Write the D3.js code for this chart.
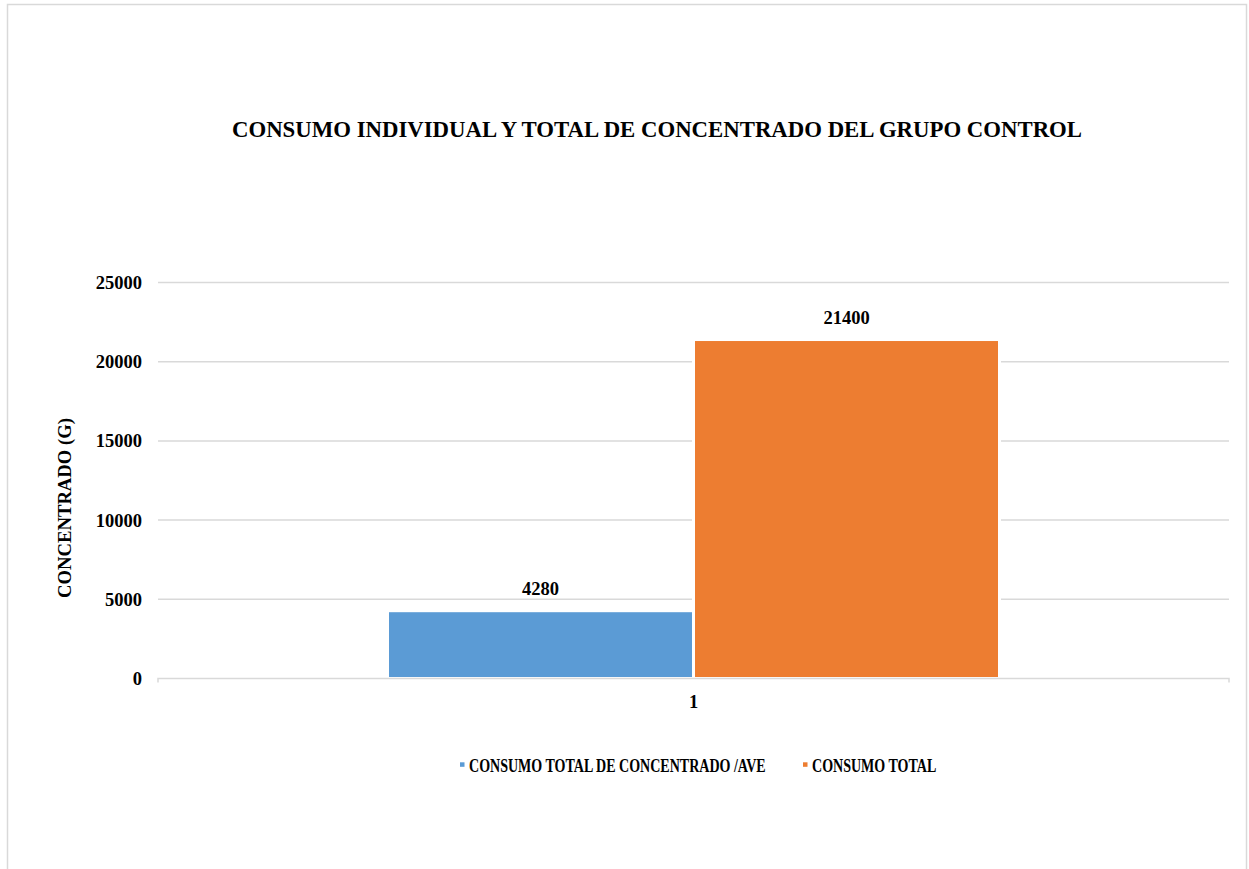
<!DOCTYPE html>
<html><head><meta charset="utf-8">
<script src="https://cdn.jsdelivr.net/npm/d3@7"></script>
<style>html,body{margin:0;padding:0;background:#fff;}svg{display:block;}</style>
</head><body>
<script>
const categories = ["1"];
const seriesNames = ["CONSUMO TOTAL DE CONCENTRADO /AVE", "CONSUMO TOTAL"];
const seriesValues = [[4280], [21400]];
const seriesColors = ["#5B9BD5", "#ED7D31"];
const yTicks = [0, 5000, 10000, 15000, 20000, 25000];
const titleText = "CONSUMO INDIVIDUAL Y TOTAL DE CONCENTRADO DEL GRUPO CONTROL";
const yTitle = "CONCENTRADO (G)";

(function () {
const W = 1249, H = 869;
const font = "'Liberation Serif','Times New Roman',serif";
const svg = d3.select("body").append("svg").attr("width", W).attr("height", H);

svg.append("rect").attr("x", 7.5).attr("y", 4.5).attr("width", 1239).attr("height", 900)
  .attr("fill", "#fff").attr("stroke", "#d9d9d9").attr("stroke-width", 1.5);

const pLeft = 158, pRight = 1229, pTop = 282.5, pBottom = 678.5;
const y = d3.scaleLinear().domain([0, 25000]).range([pBottom, pTop]);
const x0 = d3.scaleBand().domain(categories).range([pLeft, pRight]).paddingInner(0).paddingOuter(0.375);
const x1 = d3.scaleBand().domain(seriesNames).range([0, x0.bandwidth()]);

svg.append("g").selectAll("line").data(yTicks.filter(d => d > 0)).join("line")
  .attr("x1", pLeft).attr("x2", pRight).attr("y1", d => y(d)).attr("y2", d => y(d))
  .attr("stroke", "#d9d9d9").attr("stroke-width", 1.5);

const yAxis = d3.axisLeft(y).tickValues(yTicks).tickSize(0).tickPadding(16).tickFormat(d3.format("d"));
const ya = svg.append("g").attr("transform", `translate(${pLeft},0)`).call(yAxis);
ya.select(".domain").remove();
ya.selectAll("text").attr("font-family", font).attr("font-weight", "bold").attr("font-size", 18.5).attr("fill", "#000");

const data = [];
categories.forEach((c, i) => seriesNames.forEach((s, j) => data.push({c, s, v: seriesValues[j][i], col: seriesColors[j]})));
svg.append("g").selectAll("rect").data(data).join("rect")
  .attr("x", d => x0(d.c) + x1(d.s)).attr("width", x1.bandwidth())
  .attr("y", d => y(d.v)).attr("height", d => y(0) - y(d.v))
  .attr("fill", d => d.col).attr("stroke", "#fff").attr("stroke-width", 3);

const xAxis = d3.axisBottom(x0).tickSize(0).tickPadding(16);
const xa = svg.append("g").attr("transform", `translate(0,${pBottom})`).call(xAxis);
xa.select(".domain").attr("stroke", "#d9d9d9").attr("stroke-width", 1.5)
  .attr("d", `M${pLeft},4V0H${pRight}V4`);
xa.selectAll("text").attr("font-family", font).attr("font-weight", "bold").attr("font-size", 18.5).attr("fill", "#000");

svg.append("g").selectAll("text").data(data).join("text")
  .attr("x", d => x0(d.c) + x1(d.s) + x1.bandwidth() / 2).attr("y", d => y(d.v) - 16)
  .attr("text-anchor", "middle").attr("font-family", font).attr("font-weight", "bold").attr("font-size", 18.5)
  .text(d => d.v);

svg.append("text").attr("x", 657).attr("y", 136.5).attr("text-anchor", "middle")
  .attr("font-family", font).attr("font-weight", "bold").attr("font-size", 22.5)
  .attr("textLength", 850).attr("lengthAdjust", "spacingAndGlyphs").text(titleText);

svg.append("text").attr("transform", `translate(70.5,508) rotate(-90)`).attr("text-anchor", "middle")
  .attr("font-family", font).attr("font-weight", "bold").attr("font-size", 19)
  .attr("textLength", 180).attr("lengthAdjust", "spacingAndGlyphs").text(yTitle);

const legX = [460, 803];
const lg = svg.append("g").selectAll("g").data(seriesNames).join("g")
  .attr("transform", (d, i) => `translate(${legX[i]},0)`);
lg.append("rect").attr("x", 0).attr("y", 762.3).attr("width", 4.5).attr("height", 4.5).attr("fill", (d, i) => seriesColors[i]);
lg.append("text").attr("transform", "translate(9,771.7) scale(0.78,1)")
  .attr("font-family", font).attr("font-weight", "bold").attr("font-size", 18)
  .text(d => d);
})();
</script>
</body></html>
